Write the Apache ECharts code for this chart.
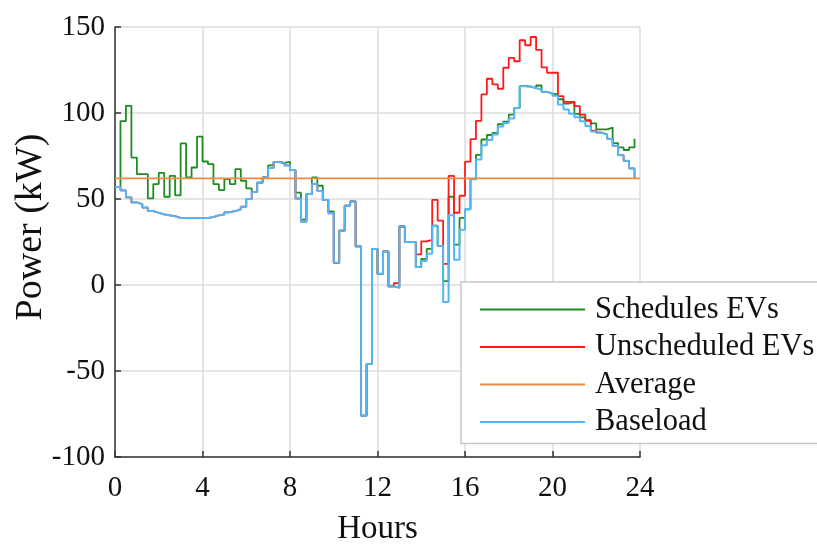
<!DOCTYPE html>
<html><head><meta charset="utf-8">
<script src="https://cdn.jsdelivr.net/npm/echarts@6/dist/echarts.min.js"></script>
<style>html,body{margin:0;padding:0;background:#fff}#c{width:817px;height:544px}</style>
</head><body><div id="c"></div>
<script>
// 15-minute resolution, 96 steps over 24 hours
const stepHours = 0.25;
const xTicks = [0, 4, 8, 12, 16, 20, 24];
const yTicks = [-100, -50, 0, 50, 100, 150];
const averageValue = 62;

const baseload = [
  57, 55, 51, 48, 47, 45, 43, 42, 41, 40.5, 40, 39, 39, 39, 39, 39,
  39, 39.5, 40.5, 41, 42.3, 43, 44, 45.5, 50, 54, 59.5, 62.5, 68, 71.5, 71, 69.5,
  66.8, 50.3, 36.8, 52.9, 58.8, 54.6, 49.4, 41.7, 12.9, 31.6, 46.1, 48.6, 22.4, -76, -46, 21,
  6.5, 19.5, -0.8, -1.6, 34, 25, 25, 10.4, 13.9, 18.1, 34.5, 22.7, -9.9, 40.6, 14.7, 32.1,
  44, 61.5, 73, 81.2, 84.3, 87.5, 92.2, 94.2, 96.8, 102.9, 115.6, 115.4, 114.5, 113.5, 112.3, 111.3,
  110, 105, 102.1, 99.6, 97.5, 95.2, 92.5, 89.3, 88.6, 87.5, 85, 80.9, 75.5, 72.2, 67.8, 62.3
];

const scheduledEVs = [
  57, 95.3, 104.2, 74.1, 64.5, 64.5, 50.4, 58.7, 65.2, 51.3, 63.5, 52.1, 82.3, 62.5, 68.3, 86.3,
  71.8, 70.3, 58.7, 55.2, 61.6, 58.7, 67.4, 60.6, 56.2, 54, 59.5, 62.5, 69.5, 71.5, 71, 71.6,
  66.8, 53.7, 38, 52.9, 62.5, 57.7, 49.4, 42.8, 12.9, 31.6, 46.1, 48.6, 22.4, -76, -46, 21,
  6.5, 19.5, -0.8, -1.6, 34, 25, 25, 10.4, 15.2, 21, 34.5, 22.7, 2.3, 51.3, 23.5, 39,
  44, 61.5, 75.6, 84.6, 87.2, 88.5, 93.5, 95, 99, 102.9, 115.6, 115.4, 114.5, 116, 112.3, 111.3,
  110.8, 108, 105.5, 106.5, 99.5, 97.5, 95.5, 94, 90.5, 90.5, 91.5, 82.5, 80, 78.5, 80, 85
];

const unscheduledEVs = [
  57, 55, 51, 48, 47, 45, 43, 42, 41, 40.5, 40, 39, 39, 39, 39, 39,
  39, 39.5, 40.5, 41, 42.3, 43, 44, 45.5, 50, 54, 59.5, 62.5, 68, 71.5, 71, 69.5,
  66.8, 50.3, 36.8, 52.9, 58.8, 54.6, 49.4, 41.7, 12.9, 31.6, 46.1, 48.6, 22.4, -76, -46, 21,
  6.5, 19.5, -0.8, 1.1, 34, 25, 25, 17.8, 25.4, 26.2, 49.5, 37.4, 12.3, 63.5, 42, 51.9,
  71.7, 84.8, 95.4, 110.8, 119.9, 116.6, 114.1, 126.3, 132.1, 130.1, 142.3, 139.4, 144.2, 136.7, 126.5, 123.4,
  123.4, 109.8, 106.5, 106.5, 104, 99, 95.8, 89.8, 88.6, 87.5, 85, 80.9, 75.5, 72.2, 67.8, 62.3
];

const seriesNames = ['Schedules EVs', 'Unscheduled EVs', 'Average', 'Baseload'];
const colors = { green: '#1e8c1e', red: '#ff1a1a', orange: '#ee8a45', blue: '#55b6f7' };

const toPairs = arr => arr.map((v, i) => [i * stepHours, v]);
const FONT = 'Liberation Serif';

const chart = echarts.init(document.getElementById('c'), null, { renderer: 'canvas' });
chart.setOption({
  animation: false,
  backgroundColor: '#fff',
  grid: { left: 115, right: 177, top: 27, bottom: 87, containLabel: false, outerBoundsMode: 'none' },
  xAxis: {
    type: 'value', min: xTicks[0], max: xTicks[xTicks.length - 1], interval: 4,
    name: 'Hours', nameLocation: 'middle', nameGap: 56, nameMoveOverlap: false,
    nameTextStyle: { fontFamily: FONT, fontSize: 33, color: '#111' },
    axisLine: { show: true, onZero: false, lineStyle: { color: '#333', width: 1.5 } },
    axisTick: { show: true, inside: true, length: 6, lineStyle: { color: '#333', width: 1.5 } },
    axisLabel: { fontFamily: FONT, fontSize: 29, color: '#111', margin: 17 },
    splitLine: { show: true, lineStyle: { color: '#dcdcdc', width: 1.5 } }
  },
  yAxis: {
    type: 'value', min: yTicks[0], max: yTicks[yTicks.length - 1], interval: 50,
    name: 'Power (kW)', nameLocation: 'middle', nameGap: 65, nameMoveOverlap: false,
    nameTextStyle: { fontFamily: FONT, fontSize: 38, color: '#111', padding: [0, 0, 0, 30] },
    axisLine: { show: true, onZero: false, lineStyle: { color: '#333', width: 1.5 } },
    axisTick: { show: true, inside: true, length: 6, lineStyle: { color: '#333', width: 1.5 } },
    axisLabel: { fontFamily: FONT, fontSize: 29, color: '#111', margin: 10 },
    splitLine: { show: true, lineStyle: { color: '#dcdcdc', width: 1.5 } }
  },
  legend: {
    data: seriesNames,
    orient: 'vertical',
    left: 461, top: 282,
    padding: [12, 40, 6, 19],
    itemWidth: 105, itemHeight: 2, itemGap: 6.5,
    icon: 'rect',
    borderColor: '#c8c8c8', borderWidth: 1.5,
    backgroundColor: '#fff',
    textStyle: { fontFamily: FONT, fontSize: 30.5, color: '#111', lineHeight: 30.5, padding: [0, 0, 0, 5] }
  },
  series: [
    { name: 'Schedules EVs', type: 'line', step: 'end', showSymbol: false, data: toPairs(scheduledEVs),
      color: colors.green, lineStyle: { color: colors.green, width: 1.8 }, z: 2 },
    { name: 'Unscheduled EVs', type: 'line', step: 'end', showSymbol: false, data: toPairs(unscheduledEVs),
      color: colors.red, lineStyle: { color: colors.red, width: 1.8 }, z: 3 },
    { name: 'Baseload', type: 'line', step: 'end', showSymbol: false, data: toPairs(baseload),
      color: colors.blue, lineStyle: { color: colors.blue, width: 2 }, z: 4 },
    { name: 'Average', type: 'line', showSymbol: false,
      data: [[xTicks[0], averageValue], [xTicks[xTicks.length - 1], averageValue]],
      color: colors.orange, lineStyle: { color: colors.orange, width: 1.6 }, z: 5 }
  ]
});
</script>
</body></html>
